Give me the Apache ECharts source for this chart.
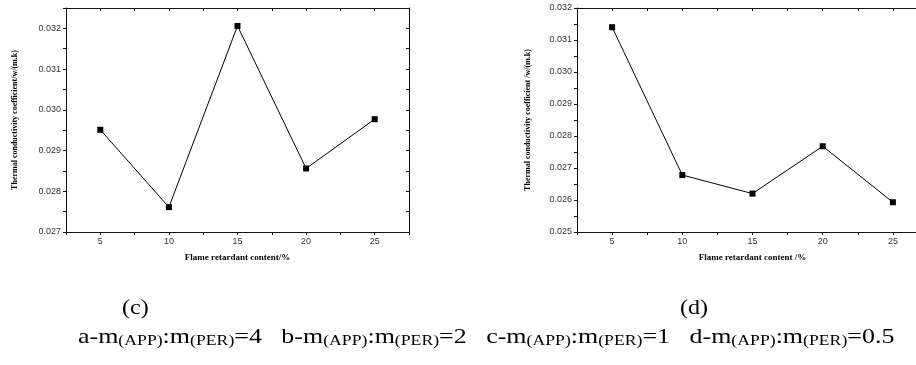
<!DOCTYPE html>
<html>
<head>
<meta charset="utf-8">
<script src="https://cdn.jsdelivr.net/npm/echarts@6/dist/echarts.min.js"></script>
<style>
html, body { margin: 0; padding: 0; background: #fff; }
#main { width: 916px; height: 365px; }
</style>
</head>
<body>
<div id="main"></div>
<script>
// 阻燃剂含量 (%)
var content = [5, 10, 15, 20, 25];
// 导热系数 w/(m.k)
var kC = [0.02951, 0.02761, 0.03206, 0.02856, 0.02977];
var kD = [0.03140, 0.02678, 0.02620, 0.02768, 0.02593];

var chart = echarts.init(document.getElementById('main'));

function pairs(ys) {
    return content.map(function (x, i) { return [x, ys[i]]; });
}

var axisColor = '#111';
var labelStyle = { color: '#333', fontSize: 9, fontFamily: 'Liberation Sans' };
var nameStyle = { color: '#000', fontSize: 8, fontWeight: 'bold', fontFamily: 'Liberation Serif' };

function xFmt(v) {
    return v % 5 === 0 ? String(v) : '';
}
function yFmt(v) {
    return Math.abs(v * 1000 - Math.round(v * 1000)) < 1e-6 ? v.toFixed(3) : '';
}

function xAxes(g, name) {
    return [{
        gridIndex: g, type: 'value', position: 'bottom',
        min: 2.5, max: 27.5, interval: 2.5,
        axisLine: { onZero: false, lineStyle: { color: axisColor, width: 1 } },
        axisTick: { inside: false, length: 3, lineStyle: { color: axisColor } },
        axisLabel: { formatter: xFmt, margin: 5, textStyle: labelStyle },
        splitLine: { show: false },
        name: name, nameLocation: 'middle', nameGap: 21,
        nameTextStyle: { color: '#000', fontSize: 9, fontWeight: 'bold', fontFamily: 'Liberation Serif' }
    }, {
        gridIndex: g, type: 'value', position: 'top',
        min: 2.5, max: 27.5, interval: 2.5,
        axisLine: { onZero: false, lineStyle: { color: axisColor, width: 1 } },
        axisTick: { inside: true, length: 3, lineStyle: { color: axisColor } },
        axisLabel: { show: false },
        splitLine: { show: false }
    }];
}

function yAxes(g, min, max, name, gap) {
    return [{
        gridIndex: g, type: 'value', position: 'left',
        min: min, max: max, interval: 0.0005,
        axisLine: { onZero: false, lineStyle: { color: axisColor, width: 1 } },
        axisTick: { inside: false, length: 3, lineStyle: { color: axisColor } },
        axisLabel: { formatter: yFmt, margin: 5, textStyle: labelStyle },
        splitLine: { show: false },
        name: name, nameLocation: 'middle', nameGap: gap,
        nameTextStyle: nameStyle
    }, {
        gridIndex: g, type: 'value', position: 'right',
        min: min, max: max, interval: 0.0005,
        axisLine: { onZero: false, lineStyle: { color: axisColor, width: 1 } },
        axisTick: { inside: true, length: 3, lineStyle: { color: axisColor } },
        axisLabel: { show: false },
        splitLine: { show: false }
    }];
}

function lineSeries(xi, yi, ys) {
    return {
        type: 'line',
        xAxisIndex: xi, yAxisIndex: yi,
        data: pairs(ys),
        symbol: 'rect', symbolSize: 6,
        lineStyle: { color: '#000', width: 1 },
        itemStyle: { color: '#000' }
    };
}

var option = {
    backgroundColor: '#fff',
    animation: false,
    grid: [
        { left: 66, top: 8, width: 343, height: 224, outerBoundsMode: 'none' },
        { left: 577, top: 8, width: 351, height: 224, outerBoundsMode: 'none' }
    ],
    xAxis: xAxes(0, 'Flame retardant content/%').concat(xAxes(1, 'Flame retardant content /%')),
    yAxis: yAxes(0, 0.027, 0.0325, 'Thermal conductivity coefficient/w/(m.k)', 47)
        .concat(yAxes(1, 0.025, 0.032, 'Thermal conductivity coefficient /w/(m.k)', 45)),
    series: [
        lineSeries(0, 0, kC),
        lineSeries(2, 2, kD)
    ],
    graphic: [{
        type: 'text', left: 122, top: 299, scaleX: 1.2,
        style: { text: '(c)', fontSize: 20, fontFamily: 'Liberation Serif', fill: '#000' }
    }, {
        type: 'text', left: 680, top: 299, scaleX: 1.2,
        style: { text: '(d)', fontSize: 20, fontFamily: 'Liberation Serif', fill: '#000' }
    }, {
        type: 'text', left: 78, top: 324, scaleX: 1.18,
        style: {
            text: 'a-m{s|(APP)}:m{s|(PER)}=4   b-m{s|(APP)}:m{s|(PER)}=2   c-m{s|(APP)}:m{s|(PER)}=1   d-m{s|(APP)}:m{s|(PER)}=0.5',
            fontSize: 22, fontFamily: 'Liberation Serif', fill: '#000',
            lineHeight: 26,
            rich: {
                s: { fontSize: 15, fontFamily: 'Liberation Serif', fill: '#000', lineHeight: 26, padding: [9, 0, 0, 0] }
            }
        }
    }]
};

chart.setOption(option);
</script>
</body>
</html>
